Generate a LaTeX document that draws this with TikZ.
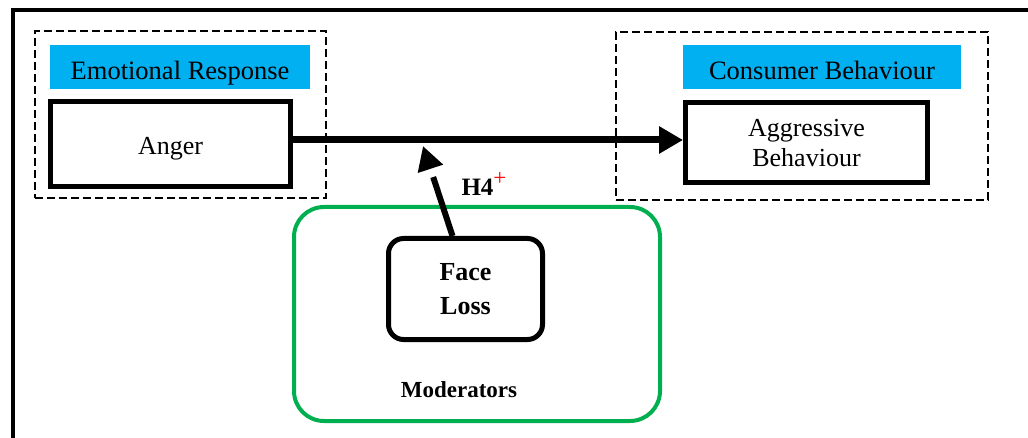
\documentclass[tikz,border=0pt]{standalone}
\usepackage{fontspec}
\setmainfont{Liberation Serif}
\usepackage{tikz}
\usetikzlibrary{arrows.meta,calc,positioning}
\usepackage{xcolor}
\definecolor{headblue}{HTML}{00B0F0}
\definecolor{modgreen}{HTML}{00B050}

\begin{document}
\begin{tikzpicture}[x=1pt,y=-1pt,
  catbox/.style={draw,line width=2pt,dash pattern=on 8pt off 4pt,inner sep=0pt},
  headbox/.style={fill=headblue,inner sep=0pt,text height=26pt,text depth=0pt,
    font=\fontsize{26.5}{31}\selectfont},
  varbox/.style={draw,fill=white,line width=5pt,inner sep=0pt,align=center,
    text depth=0pt,font=\fontsize{26}{31}\selectfont},
  modbox/.style={draw=modgreen,line width=4pt,rounded corners=30pt,inner sep=0pt},
  flow/.style={line width=7pt,-{Triangle[length=24pt,width=26pt]}}
]
\useasboundingbox (0,0) rectangle (1028,438);
% outer frame
\draw[line width=4pt] (13,438) |- (1028,10);
% categories
\node[catbox,minimum width=291pt,minimum height=167pt] (emocat) at (180.5,114.5) {};
\node[catbox,minimum width=372pt,minimum height=168pt] (behcat) at (802,116) {};
\node[headbox,minimum width=260pt,minimum height=44pt] (emohead) at (180,67) {Emotional Response};
\node[headbox,minimum width=278pt,minimum height=44pt] (behhead) at (822,67) {Consumer Behaviour};
% moderators
\node[modbox,minimum width=366pt,minimum height=214pt] (modbox) at (477,314) {};
\node[font=\fontsize{23}{27}\selectfont\bfseries] (modlabel) at (459,390) {Moderators};
% variables
\node[varbox,text height=22pt,minimum width=240pt,minimum height=85pt] (anger) at (170.5,144) {Anger};
\node[varbox,text depth=-6pt,minimum width=242pt,minimum height=80pt] (aggr) at (806.5,142.5) {Aggressive\\[-1pt]Behaviour};
\node[varbox,text depth=-6pt,rounded corners=15pt,minimum width=154pt,minimum height=101pt,
  font=\fontsize{26}{34}\selectfont\bfseries] (face) at (465.5,289) {Face\\Loss};
% relations
\coordinate (h4tip) at (423,146);
\draw[flow] ([yshift=4pt]anger.east) -- ([yshift=2.5pt]aggr.west);
\draw[line width=6pt,dash pattern=on 62pt off 12pt,-{Triangle[length=24pt,width=25pt]}]
  ([xshift=-13pt]face.north) -- (h4tip);
\node[font=\fontsize{25}{30}\selectfont\bfseries,inner sep=0pt] (h4) at (484,184)
  {H4\raisebox{10pt}{\fontsize{23}{23}\selectfont\mdseries\textcolor{red}{+}}};
\end{tikzpicture}
\end{document}
